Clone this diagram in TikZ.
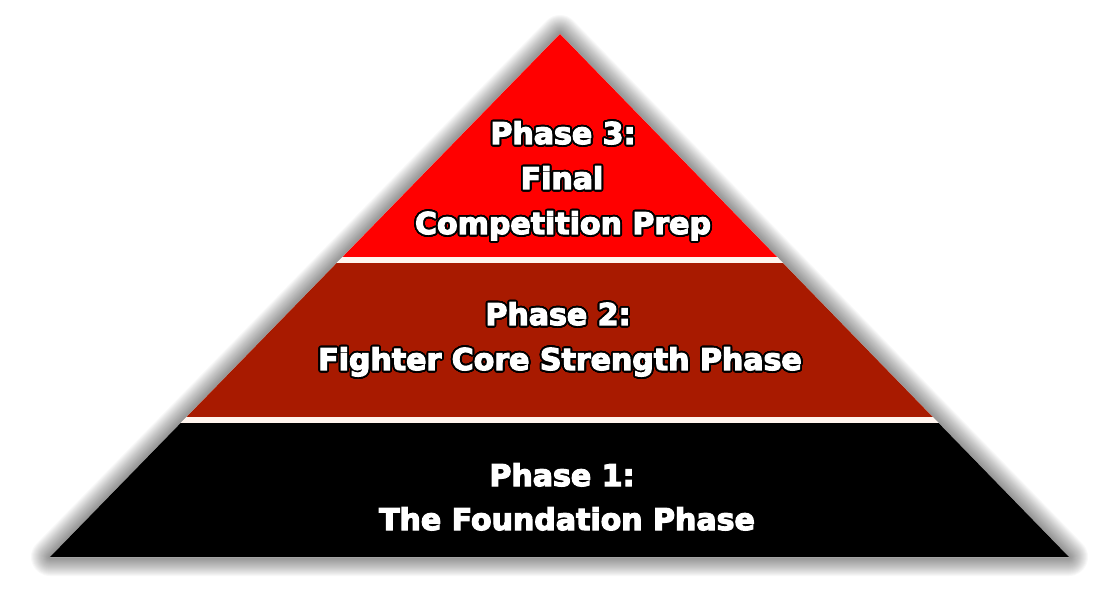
\documentclass[tikz,border=0pt]{standalone}
\usepackage{fontspec}
\newfontfamily\pyrfont{DejaVu Sans}[BoldFeatures={FakeBold=4}]
\usepackage[copies]{contour}
\contourlength{1.8pt}
\contournumber{32}
\definecolor{topred}{HTML}{FF0000}
\definecolor{midred}{HTML}{A81A00}
\definecolor{gapline}{HTML}{FFF4EE}
\tikzset{
  label/.style={anchor=base, text=white, inner sep=0pt,
    font=\pyrfont\bfseries\fontsize{30}{36}\selectfont},
}
\newcommand{\outl}[1]{\contour{black}{#1}}
\begin{document}
\begin{tikzpicture}[x=1pt,y=-1pt]
\useasboundingbox (0,0) rectangle (1117,593);
\coordinate (A) at (560,34);
\coordinate (BL) at (50,557);
\coordinate (BR) at (1069,557);
% soft shadow
\begin{scope}[shift={(2,5)}]
\foreach \i in {1,...,19}{
  \draw[line width={2*\i}, black, opacity=0.026, line join=round] (A)--(BL)--(BR)--cycle;
}
\end{scope}
% pyramid body
\fill[white] (A)--(BL)--(BR)--cycle;
\begin{scope}
\clip (A)--(BL)--(BR)--cycle;
\fill[topred] (0,0) rectangle (1117,257.5);
\fill[gapline] (0,257.5) rectangle (1117,263.5);
\fill[midred] (0,263.5) rectangle (1117,417.5);
\fill[gapline] (0,417.5) rectangle (1117,423);
\fill[black] (0,423) rectangle (1117,557);
\end{scope}
% texts
\node[label] (t3a) at (563,144) {\outl{Phase 3:}};
\node[label] (t3b) at (562,189) {\outl{Final}};
\node[label] (t3c) at (563,234) {\outl{Competition Prep}};
\node[label] (t2a) at (558,325) {\outl{Phase 2:}};
\node[label] (t2b) at (560,370) {\outl{Fighter Core Strength Phase}};
\node[label] (t1a) at (562,486) {\outl{Phase 1:}};
\node[label] (t1b) at (567,530) {\outl{The Foundation Phase}};
\end{tikzpicture}
\end{document}
